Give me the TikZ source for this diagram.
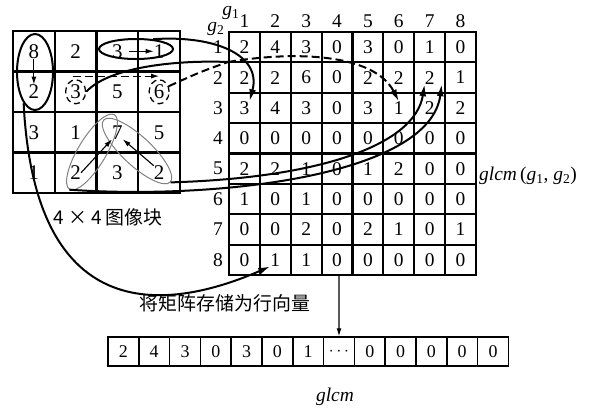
\documentclass[tikz,border=0pt]{standalone}
\usepackage{fontspec}
\setmainfont{Liberation Serif}
\newfontfamily\cjk{Noto Sans CJK SC}
\usetikzlibrary{arrows.meta,shapes.geometric}

\tikzset{
  rejilla/.style={line width=2.2bp},
  pix/.style={inner sep=0pt, font=\fontsize{21}{21}\selectfont},
  celda/.style={inner sep=0pt, font=\fontsize{19.5}{19.5}\selectfont},
  casilla/.style={draw, line width=1.5bp, minimum width=30.8bp, minimum height=29bp, inner sep=0pt, font=\fontsize{18}{18}\selectfont},
  ovalo/.style={draw, ellipse, line width=2bp, inner sep=0pt},
  ovalo gris/.style={draw=gray, ellipse, line width=1bp, inner sep=0pt},
  circulo/.style={draw, ellipse, dash pattern=on 6bp off 4bp, line width=1.3bp, inner sep=0pt, minimum width=20bp, minimum height=24bp},
  rayas/.style={dash pattern=on 8bp off 4bp},
  flecha/.style={-{Latex[length=12bp,width=7bp]}, line width=2bp},
  flechita/.style={-{Latex[length=8bp,width=5bp]}, line width=1.1bp},
  texto/.style={font=\cjk\fontsize{19}{19}\selectfont}
}

\begin{document}
\begin{tikzpicture}[x=1bp,y=-1bp]
    \useasboundingbox (0,0) rectangle (590,408);
    % Bloque de imagen 4x4
    \draw[rejilla] (13,31) rectangle (180,193);
    \foreach \i in {1,2,3} {
        \draw[rejilla] ({13+41.75*\i},31) -- ++(0,162);
        \draw[rejilla] (13,{31+40.5*\i}) -- ++(167,0);
    }
    \foreach \fila [count=\r] in {{8,2,3,1},{2,3,5,6},{3,1,7,5},{1,2,3,2}} {
        \foreach \v [count=\c] in \fila {
            \node[pix] (p\r\c) at ({13+41.75*(\c-0.5)},{31+40.5*(\r-0.5)}) {\v};
        }
    }
    \node[texto] (bloque) at (108,217) {4 × 4 图像块};

    % Matriz de co-ocurrencia
    \draw[rejilla] (229,32) rectangle (476,275);
    \foreach \i in {1,...,7} {
        \draw[rejilla] ({229+30.875*\i},32) -- ++(0,243);
        \draw[rejilla] (229,{32+30.375*\i}) -- ++(247,0);
    }
    \foreach \fila [count=\r] in {{2,4,3,0,3,0,1,0},{2,2,6,0,2,2,2,1},{3,4,3,0,3,1,2,2},{0,0,0,0,0,0,0,0},{2,2,1,0,1,2,0,0},{1,0,1,0,0,0,0,0},{0,0,2,0,2,1,0,1},{0,1,1,0,0,0,0,0}} {
        \foreach \v [count=\c] in \fila {
            \node[celda] (m\r\c) at ({229+30.875*(\c-0.5)},{32+30.375*(\r-0.5)}) {\v};
        }
    }
    \foreach \i in {1,...,8} {
        \node[celda] (col\i) at ({229+30.875*(\i-0.5)},21) {\i};
        \node[celda] (fil\i) at (218,{32+30.375*(\i-0.5)}) {\i};
    }
    \node[celda] (eg1) at (231,13) {\textit{g}\textsubscript{1}};
    \node[celda] (eg2) at (216,29) {\textit{g}\textsubscript{2}};
    \node[celda, anchor=west] (etiqueta) at (479,176) {\textit{glcm}\,(\textit{g}\textsubscript{1}, \textit{g}\textsubscript{2})};

    % Vector fila
    \foreach \v [count=\i] in {2,4,3,0,3,0,1,$\cdots$,0,0,0,0,0} {
        \node[casilla] (v\i) at ({108+30.8*(\i-0.5)},351.5) {\v};
    }
    \node[texto] (vectorizar) at (225,303) {将矩阵存储为行向量};
    \node[celda, font=\fontsize{19.5}{19.5}\selectfont\itshape] (nombre) at (335,397) {glcm};
    \coordinate (mbase) at (339,275);
    \draw[flechita] (mbase) -- (v8.north);

    % Pares de pixeles
    \node[ovalo, minimum width=36bp, minimum height=76bp] (o82) at (35,72) {};
    \node[ovalo, minimum width=74bp, minimum height=20bp] (o31) at (136,49) {};
    \node[circulo] (r3) at (p22) {};
    \node[circulo] (r6) at (p24) {};
    \node[ovalo gris, minimum width=87bp, minimum height=28bp, rotate=59] (gris1) at (92,152) {};
    \node[ovalo gris, minimum width=91bp, minimum height=29bp, rotate=-43] (gris2) at (137,151) {};

    \draw[flechita] (p11.south) -- (p21.north);
    \draw[flechita, shorten <=6bp] (p13.east) -- (p14.west);
    \draw[flechita, rayas] ([shift={(-3bp,3bp)}]r3.north) -- ([yshift=3bp]r6.north);
    \draw[flechita] (p42.east) -- (p33.south west);
    \draw[flechita] (p44.north west) -- (p33.south east);

    \draw[flecha] (o82.250) .. controls (35,330) and (170,310) .. (m82.south west);
    \draw[flecha] (o31.30) .. controls (215,35) and (262,55) .. (m31.north east);
    \coordinate (J) at (228,62);
    \draw[line width=2bp] (r3.east) .. controls (110,66) and (180,60) .. (J);
    \draw[line width=2bp, rayas] (r6.30) .. controls (200,72) .. (J);
    \draw[flecha, rayas] (J) .. controls (300,50) and (375,55) .. (m36.north);
    \draw[flecha] (gris2.east) .. controls (320,178) and (415,145) .. (m27.south west);
    \draw[flecha] (gris1.west) .. controls (220,200) and (430,175) .. ([xshift=7bp]m27.south east);
\end{tikzpicture}
\end{document}
